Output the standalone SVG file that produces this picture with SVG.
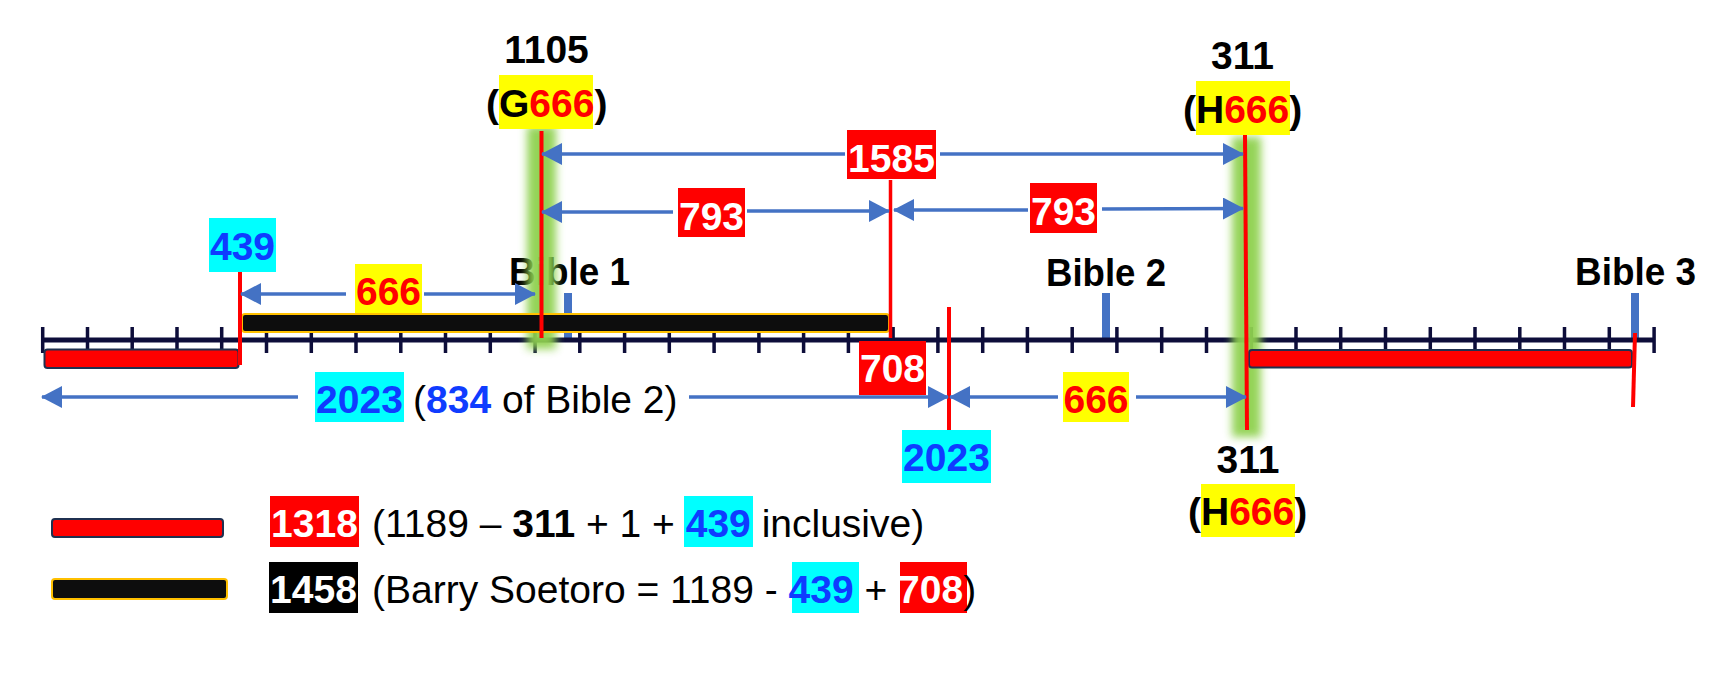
<svg xmlns="http://www.w3.org/2000/svg" width="1735" height="685" viewBox="0 0 1735 685">
<defs>
<style>
text { font-family: "Liberation Sans", Arial, sans-serif; font-size: 39px; fill: #000; }
.b { font-weight: bold; }
.wt { fill: #fff; font-weight: bold; }
.bl { fill: #0f3cff; font-weight: bold; }
.rd { fill: #ff0000; font-weight: bold; }
.conn { stroke: #4472c4; stroke-width: 3.5; fill: none; marker-end: url(#ah); }
.rl { stroke: #ff0000; stroke-width: 4; fill: none; }
.tick { stroke: #0d0d3a; stroke-width: 3.5; fill: none; }
.axis { stroke: #0d0d3a; stroke-width: 5; }
.btick { fill: #4472c4; }
.glow { fill: #8fd14f; opacity: 0.95; filter: url(#blur); }
.cy { fill: #00ffff; }
.ye { fill: #ffff00; }
.rb { fill: #ff0000; }
.redbar { fill: #ff0000; stroke: #1f3050; stroke-width: 2; }
.blackbar { fill: #0d0d0d; stroke: #ffc000; stroke-width: 2; }
</style>
<marker id="ah" viewBox="0 0 21 22" refX="20" refY="11" markerWidth="21" markerHeight="22" markerUnits="userSpaceOnUse" orient="auto"><path d="M0,0 L21,11 L0,22 z" fill="#4472c4"/></marker>
<filter id="blur" x="-1" y="-0.2" width="3" height="1.4"><feGaussianBlur stdDeviation="4.5"/></filter>
</defs>
<rect width="1735" height="685" fill="#fff"/>

<g id="bible-labels">
<text x="509" y="285" class="b" textLength="121" lengthAdjust="spacingAndGlyphs">Bible 1</text>
<text x="1046" y="286" class="b" textLength="120" lengthAdjust="spacingAndGlyphs">Bible 2</text>
<text x="1575" y="285" class="b" textLength="121" lengthAdjust="spacingAndGlyphs">Bible 3</text>
<rect class="btick" x="564" y="293" width="8" height="45"/>
<rect class="btick" x="1102" y="293" width="8" height="45"/>
<rect class="btick" x="1631" y="293" width="8" height="45"/>
</g>

<g id="axis">
<line class="axis" x1="42" y1="340" x2="1655" y2="340"/>
<path class="tick" d="M42.7,327V353M87.5,327V353M132.2,327V353M177,327V353M221.7,327V353M266.5,327V353M311.3,327V353M356,327V353M400.8,327V353M445.5,327V353M490.3,327V353M535.1,327V353M579.8,327V353M624.6,327V353M669.3,327V353M714.1,327V353M758.9,327V353M803.6,327V353M848.4,327V353M893.1,327V353M937.9,327V353M982.7,327V353M1027.4,327V353M1072.2,327V353M1116.9,327V353M1161.7,327V353M1206.5,327V353M1251.2,327V353M1296,327V353M1340.7,327V353M1385.5,327V353M1430.3,327V353M1475,327V353M1519.8,327V353M1564.5,327V353M1609.3,327V353M1654.1,327V353"/>
</g>

<g id="glows">
<rect class="glow" x="527" y="126" width="29" height="223"/>
<rect class="glow" x="1232" y="137" width="29" height="300"/>
</g>

<g id="bars">
<rect class="redbar" x="44.5" y="349.5" width="194" height="18.5" rx="3"/>
<rect class="blackbar" x="242" y="314" width="647" height="18" rx="3"/>
<rect class="redbar" x="1249" y="350" width="383" height="17.5" rx="3"/>
</g>

<g id="red-markers">
<line class="rl" x1="240" y1="272" x2="240" y2="365"/>
<line class="rl" x1="541.5" y1="131" x2="541.5" y2="338"/>
<line class="rl" x1="890.5" y1="180" x2="890.5" y2="338" style="stroke-width:3.5"/>
<line class="rl" x1="949" y1="307" x2="949" y2="430"/>
<line class="rl" x1="1245" y1="135" x2="1247" y2="430"/>
<line class="rl" x1="1635" y1="333" x2="1633" y2="407"/>
</g>

<g id="connectors">
<line class="conn" x1="346" y1="294" x2="241" y2="294"/>
<line class="conn" x1="424" y1="294" x2="535" y2="294"/>
<line class="conn" x1="845" y1="154" x2="542" y2="154"/>
<line class="conn" x1="940" y1="154" x2="1243" y2="154"/>
<line class="conn" x1="673" y1="212" x2="542" y2="212"/>
<line class="conn" x1="747" y1="211" x2="889" y2="211"/>
<line class="conn" x1="1028" y1="210" x2="894" y2="210"/>
<line class="conn" x1="1102" y1="209" x2="1243" y2="208.5"/>
<line class="conn" x1="298" y1="397" x2="42" y2="397"/>
<line class="conn" x1="689" y1="397" x2="948" y2="397"/>
<line class="conn" x1="1058" y1="397" x2="950" y2="397"/>
<line class="conn" x1="1136" y1="397" x2="1246" y2="397"/>
</g>

<g id="label-1105">
<text x="546.5" y="63" text-anchor="middle" class="b">1105</text>
<rect class="ye" x="499" y="75" width="94" height="54"/>
<text x="486" y="117" class="b">(G<tspan class="rd">666</tspan>)</text>
</g>

<g id="label-311-top">
<text x="1242.5" y="69" text-anchor="middle" class="b">311</text>
<rect class="ye" x="1196" y="81" width="94" height="54"/>
<text x="1183" y="123" class="b">(H<tspan class="rd">666</tspan>)</text>
</g>

<g id="label-311-bottom">
<text x="1248" y="473" text-anchor="middle" class="b">311</text>
<rect class="ye" x="1201" y="484" width="94" height="53"/>
<text x="1188" y="525" class="b">(H<tspan class="rd">666</tspan>)</text>
</g>

<g id="label-439">
<rect class="cy" x="209" y="218" width="67" height="54"/>
<text x="242.5" y="260" text-anchor="middle" class="bl">439</text>
</g>

<g id="label-666-top">
<rect class="ye" x="355" y="264" width="67" height="49"/>
<text x="388.5" y="305" text-anchor="middle" class="rd">666</text>
</g>

<g id="label-1585">
<rect class="rb" x="847" y="130" width="89" height="49"/>
<text x="891.5" y="172" text-anchor="middle" class="wt">1585</text>
</g>

<g id="label-793-left">
<rect class="rb" x="678" y="188" width="67" height="49"/>
<text x="711.5" y="230" text-anchor="middle" class="wt">793</text>
</g>

<g id="label-793-right">
<rect class="rb" x="1030" y="183" width="67" height="50"/>
<text x="1063.5" y="225" text-anchor="middle" class="wt">793</text>
</g>

<g id="label-708">
<rect class="rb" x="859" y="341" width="67" height="54"/>
<text x="892.5" y="382" text-anchor="middle" class="wt">708</text>
</g>

<g id="label-2023-span">
<rect class="cy" x="315" y="372" width="89" height="50"/>
<text x="359.5" y="413" text-anchor="middle" class="bl">2023</text>
<text x="413" y="413">(<tspan class="bl">834</tspan> of Bible 2)</text>
</g>

<g id="label-666-bottom">
<rect class="ye" x="1063" y="372" width="66" height="50"/>
<text x="1096" y="413" text-anchor="middle" class="rd">666</text>
</g>

<g id="label-2023-bottom">
<rect class="cy" x="902" y="430" width="89" height="53"/>
<text x="946.5" y="471" text-anchor="middle" class="bl">2023</text>
</g>

<g id="legend-1318">
<rect class="redbar" x="52" y="519" width="171" height="18" rx="3"/>
<rect class="rb" x="270" y="496" width="89" height="51"/>
<text x="314.5" y="537" text-anchor="middle" class="wt">1318</text>
<rect class="cy" x="684" y="496" width="69" height="51"/>
<text x="372" y="537">(1189 – <tspan class="b">311</tspan> + 1 + <tspan class="bl">439</tspan> inclusive)</text>
</g>

<g id="legend-1458">
<rect class="blackbar" x="52" y="579" width="175" height="20" rx="3"/>
<rect fill="#000" x="269" y="562" width="89" height="51"/>
<text x="313.5" y="603" text-anchor="middle" class="wt">1458</text>
<rect class="cy" x="792" y="562" width="67" height="51"/>
<rect class="rb" x="900" y="562" width="67" height="51"/>
<text x="372" y="603">(Barry Soetoro = 1189 - <tspan class="bl">439</tspan> + <tspan class="wt">708</tspan>)</text>
</g>
</svg>
